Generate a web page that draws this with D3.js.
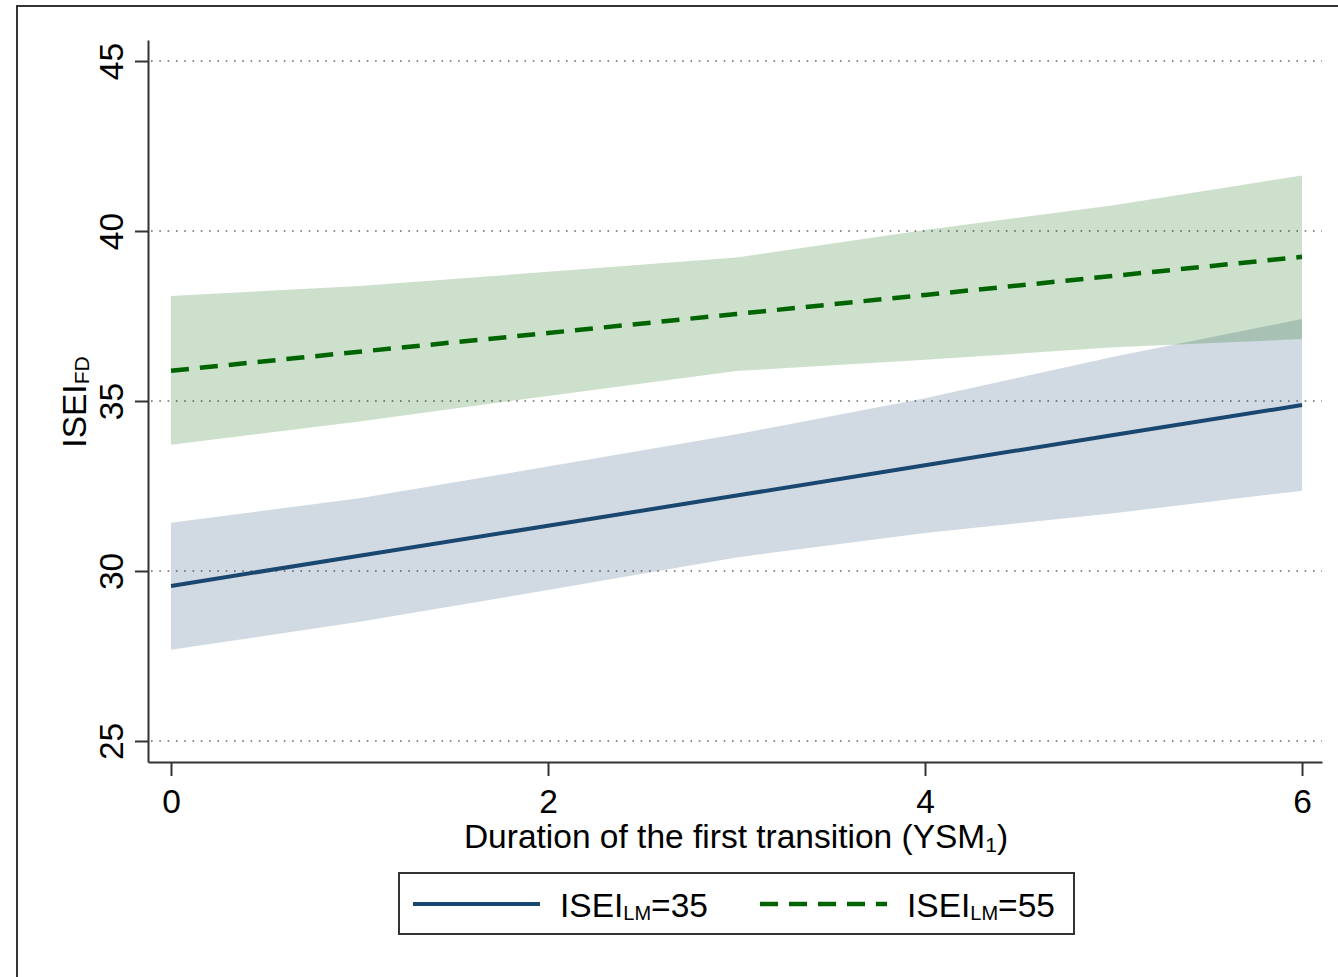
<!DOCTYPE html>
<html><head><meta charset="utf-8">
<script src="https://cdn.jsdelivr.net/npm/d3@7"></script>
<style>
html,body{margin:0;padding:0;background:#fff;}
svg{display:block;}
text{font-family:"Liberation Sans",Arial,sans-serif;fill:#000;}
</style>
</head><body>
<svg id="c" width="1338" height="977"></svg>
<script>
// ---- data ----
const xValues = [0, 1, 2, 3, 4, 5, 6];
const fit35 = [29.56, 30.45, 31.33, 32.22, 33.11, 34.00, 34.88];
const lo35  = [27.68, 28.51, 29.44, 30.40, 31.12, 31.70, 32.36];
const hi35  = [31.42, 32.14, 33.07, 34.02, 35.08, 36.30, 37.41];
const fit55 = [35.89, 36.45, 37.00, 37.56, 38.12, 38.68, 39.24];
const lo55  = [33.71, 34.40, 35.15, 35.88, 36.21, 36.58, 36.82];
const hi55  = [38.09, 38.38, 38.80, 39.22, 40.03, 40.76, 41.63];
const xTicks = [0, 2, 4, 6];
const yTicks = [25, 30, 35, 40, 45];
const seriesNames = ["35", "55"];

const svg = d3.select("#c");
const FONT = 33.5;
const FF = '"Liberation Sans",Arial,sans-serif';

// outer frame
svg.append("rect").attr("x", 17).attr("y", 6).attr("width", 1400).attr("height", 1100)
  .attr("fill", "none").attr("stroke", "#333").attr("stroke-width", 2);

const x = d3.scaleLinear().domain([-0.122, 6.106]).range([148, 1322]);
const y = d3.scaleLinear().domain([24.382, 45.618]).range([762, 40]);

// gridlines
svg.append("g").selectAll("line").data(yTicks).join("line")
  .attr("x1", 151).attr("x2", 1322)
  .attr("y1", d => y(d)).attr("y2", d => y(d))
  .attr("stroke", "#666").attr("stroke-width", 1.6)
  .attr("stroke-dasharray", "1.6 6.7");

const rows = xValues.map((v, i) => ({x: v, f35: fit35[i], l35: lo35[i], h35: hi35[i],
  f55: fit55[i], l55: lo55[i], h55: hi55[i]}));

// bands
const area35 = d3.area().x(d => x(d.x)).y0(d => y(d.l35)).y1(d => y(d.h35));
const area55 = d3.area().x(d => x(d.x)).y0(d => y(d.l55)).y1(d => y(d.h55));
svg.append("path").datum(rows).attr("d", area35).attr("fill", "#1a476f").attr("fill-opacity", 0.2);
svg.append("path").datum(rows).attr("d", area55).attr("fill", "#006400").attr("fill-opacity", 0.2);

// lines
const line35 = d3.line().x(d => x(d.x)).y(d => y(d.f35));
const line55 = d3.line().x(d => x(d.x)).y(d => y(d.f55));
svg.append("path").datum(rows).attr("d", line35).attr("fill", "none")
  .attr("stroke", "#1a476f").attr("stroke-width", 4);
svg.append("path").datum(rows).attr("d", line55).attr("fill", "none")
  .attr("stroke", "#006400").attr("stroke-width", 4.5).attr("stroke-dasharray", "18 11");

// y axis
const yAxis = svg.append("g").attr("transform", "translate(148,0)")
  .call(d3.axisLeft(y).tickValues(yTicks).tickSize(13).tickSizeOuter(0).tickFormat(d3.format("d")));
yAxis.select(".domain").attr("stroke", "#333").attr("stroke-width", 2);
yAxis.selectAll(".tick line").attr("stroke", "#333").attr("stroke-width", 2);
yAxis.selectAll(".tick text")
  .attr("transform", "rotate(-90)")
  .attr("x", 0).attr("y", -25).attr("dy", 0)
  .attr("text-anchor", "middle")
  .style("font-size", FONT + "px").style("font-family", FF)
  .attr("fill", "#000");

// x axis
const xAxis = svg.append("g").attr("transform", "translate(0,762)")
  .call(d3.axisBottom(x).tickValues(xTicks).tickSize(14).tickSizeOuter(0).tickFormat(d3.format("d")));
xAxis.select(".domain").attr("stroke", "#333").attr("stroke-width", 2);
xAxis.selectAll(".tick line").attr("stroke", "#333").attr("stroke-width", 2);
xAxis.selectAll(".tick text")
  .attr("y", 51).attr("dy", 0)
  .style("font-size", FONT + "px").style("font-family", FF)
  .attr("fill", "#000");

// x title
const xt = svg.append("text").attr("x", 736).attr("y", 848).attr("text-anchor", "middle")
  .style("font-size", FONT + "px");
xt.append("tspan").text("Duration of the first transition (YSM");
xt.append("tspan").attr("dy", 4).style("font-size", "21px").text("1");
xt.append("tspan").attr("dy", -4).text(")");

// y title
const yt = svg.append("text").attr("transform", "translate(86,402) rotate(-90)")
  .attr("text-anchor", "middle").style("font-size", FONT + "px");
yt.append("tspan").text("ISEI");
yt.append("tspan").attr("dy", 3).style("font-size", "21px").text("FD");

// legend
svg.append("rect").attr("x", 399).attr("y", 873).attr("width", 675).attr("height", 61)
  .attr("fill", "#fff").attr("stroke", "#333").attr("stroke-width", 2);
const leg = [
  {x1: 413, x2: 540, tx: 560, color: "#1a476f", dash: null, w: 4, name: seriesNames[0]},
  {x1: 760, x2: 887, tx: 907, color: "#006400", dash: "18 11", w: 4.5, name: seriesNames[1]}
];
leg.forEach(l => {
  svg.append("line").attr("x1", l.x1).attr("x2", l.x2).attr("y1", 904).attr("y2", 904)
    .attr("stroke", l.color).attr("stroke-width", l.w).attr("stroke-dasharray", l.dash);
  const t = svg.append("text").attr("x", l.tx).attr("y", 917).style("font-size", FONT + "px");
  t.append("tspan").text("ISEI");
  t.append("tspan").attr("dy", 3).style("font-size", "20px").text("LM");
  t.append("tspan").attr("dy", -3).text("=" + l.name);
});
</script>
</body></html>
